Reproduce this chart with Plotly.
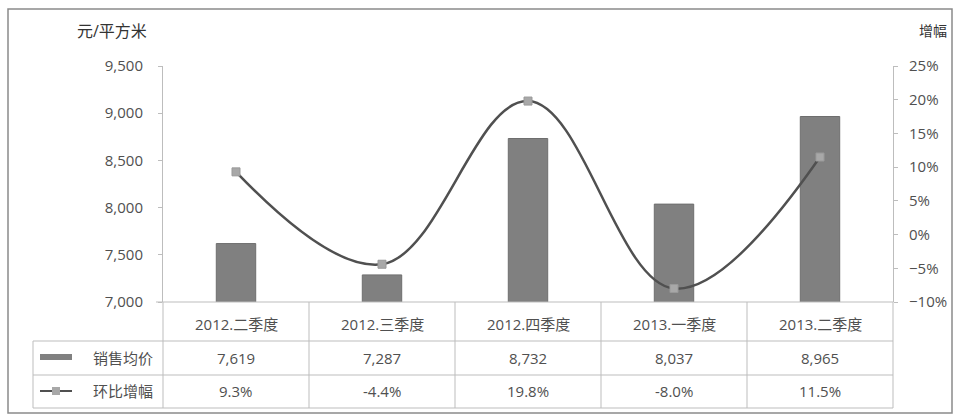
import plotly.graph_objects as go

categories = ["2012.二季度", "2012.三季度", "2012.四季度", "2013.一季度", "2013.二季度"]
avg_price = [7619, 7287, 8732, 8037, 8965]
growth_pct = [9.3, -4.4, 19.8, -8.0, 11.5]
price_name = "销售均价"
growth_name = "环比增幅"
left_title = "元/平方米"
right_title = "增幅"

W, H = 958, 419
L, R, T, B = 163, 893, 66, 302
pw, ph = R - L, B - T

def px(x):
    return (x - L) / pw

def py(y):
    return (B - y) / ph

FONT = "Open Sans, Noto Sans CJK SC, sans-serif"
TXT = "#505050"
GRID = "#bdbdbd"

fig = go.Figure()
fig.add_trace(go.Bar(x=categories, y=avg_price, name=price_name, width=0.27,
                     marker=dict(color="#808080", line=dict(color="#6e6e6e", width=1)),
                     yaxis="y"))
fig.add_trace(go.Scatter(x=categories, y=growth_pct, name=growth_name, yaxis="y2",
                         mode="lines+markers",
                         line=dict(color="#505050", width=2.5, shape="spline", smoothing=1.1),
                         marker=dict(symbol="square", size=8, color="#a8a8a8",
                                     line=dict(color="#999999", width=1))))

shapes = []
annotations = []
row_lines = [341, 375, 408]
for yy in row_lines:
    shapes.append(dict(type="line", xref="paper", yref="paper", x0=px(33), x1=px(R),
                       y0=py(yy), y1=py(yy), line=dict(color=GRID, width=1)))
n = len(categories)
for k in range(n + 1):
    xx = k / n
    shapes.append(dict(type="line", xref="paper", yref="paper", x0=xx, x1=xx,
                       y0=py(302), y1=py(408), line=dict(color=GRID, width=1)))
shapes.append(dict(type="line", xref="paper", yref="paper", x0=px(33), x1=px(33),
                   y0=py(341), y1=py(408), line=dict(color=GRID, width=1)))
shapes.append(dict(type="line", xref="paper", yref="paper", x0=px(156), x1=px(R),
                   y0=0, y1=0, line=dict(color=GRID, width=1)))
shapes.append(dict(type="rect", xref="paper", yref="paper", x0=px(8), x1=px(952),
                   y0=py(9), y1=py(413), line=dict(color="#8a8a8a", width=1.5)))
shapes.append(dict(type="rect", xref="paper", yref="paper", x0=px(40), x1=px(72),
                   y0=py(360), y1=py(354), fillcolor="#808080", line=dict(width=0)))
shapes.append(dict(type="line", xref="paper", yref="paper", x0=px(40), x1=px(72),
                   y0=py(391), y1=py(391), line=dict(color="#505050", width=2)))
shapes.append(dict(type="rect", xref="paper", yref="paper", x0=px(52), x1=px(60),
                   y0=py(395), y1=py(387), fillcolor="#a8a8a8", line=dict(width=0)))

tf = dict(family=FONT, size=15, color=TXT)
mid = dict(showarrow=False, yanchor="middle")
for i, c in enumerate(categories):
    annotations.append(dict(x=c, xref="x", y=py(324), yref="paper", text=c,
                            xanchor="center", font=tf, **mid))
    annotations.append(dict(x=c, xref="x", y=py(358), yref="paper",
                            text=f"{avg_price[i]:,}", xanchor="center", font=tf, **mid))
    annotations.append(dict(x=c, xref="x", y=py(391), yref="paper",
                            text=f"{growth_pct[i]:.1f}%", xanchor="center", font=tf, **mid))
annotations.append(dict(x=px(155), y=py(358), xref="paper", yref="paper", text=price_name,
                        xanchor="right", font=tf, **mid))
annotations.append(dict(x=px(155), y=py(391), xref="paper", yref="paper", text=growth_name,
                        xanchor="right", font=tf, **mid))
annotations.append(dict(x=px(75), y=py(31), xref="paper", yref="paper", text=left_title,
                        xanchor="left", font=dict(family=FONT, size=16, color="#333"), **mid))
annotations.append(dict(x=px(917), y=py(31), xref="paper", yref="paper", text=right_title,
                        xanchor="left", font=dict(family=FONT, size=14, color="#333"), **mid))

fig.update_layout(
    width=W, height=H,
    margin=dict(l=L, r=W - R, t=T, b=H - B, pad=0),
    paper_bgcolor="white", plot_bgcolor="white",
    showlegend=False,
    font=dict(family=FONT, size=15, color=TXT),
    xaxis=dict(type="category", showticklabels=False, showline=False, ticks="",
               showgrid=False, zeroline=False),
    yaxis=dict(range=[7000, 9500], dtick=500, tickformat=",", showgrid=False,
               showline=True, linecolor=GRID, ticks="outside", ticklen=4,
               tickcolor=GRID, zeroline=False, ticklabelstandoff=12,
               tickfont=dict(family=FONT, size=15, color=TXT)),
    yaxis2=dict(range=[-10, 25], dtick=5, ticksuffix="%", overlaying="y", side="right",
                showgrid=False, showline=True, linecolor=GRID, ticks="outside",
                ticklen=4, tickcolor=GRID, zeroline=False, ticklabelstandoff=8,
                tickfont=dict(family=FONT, size=15, color=TXT)),
    shapes=shapes, annotations=annotations,
)

fig.write_html("out.html", config={"displayModeBar": False},
               post_script="document.body.style.margin='0';document.body.style.overflow='hidden';")
